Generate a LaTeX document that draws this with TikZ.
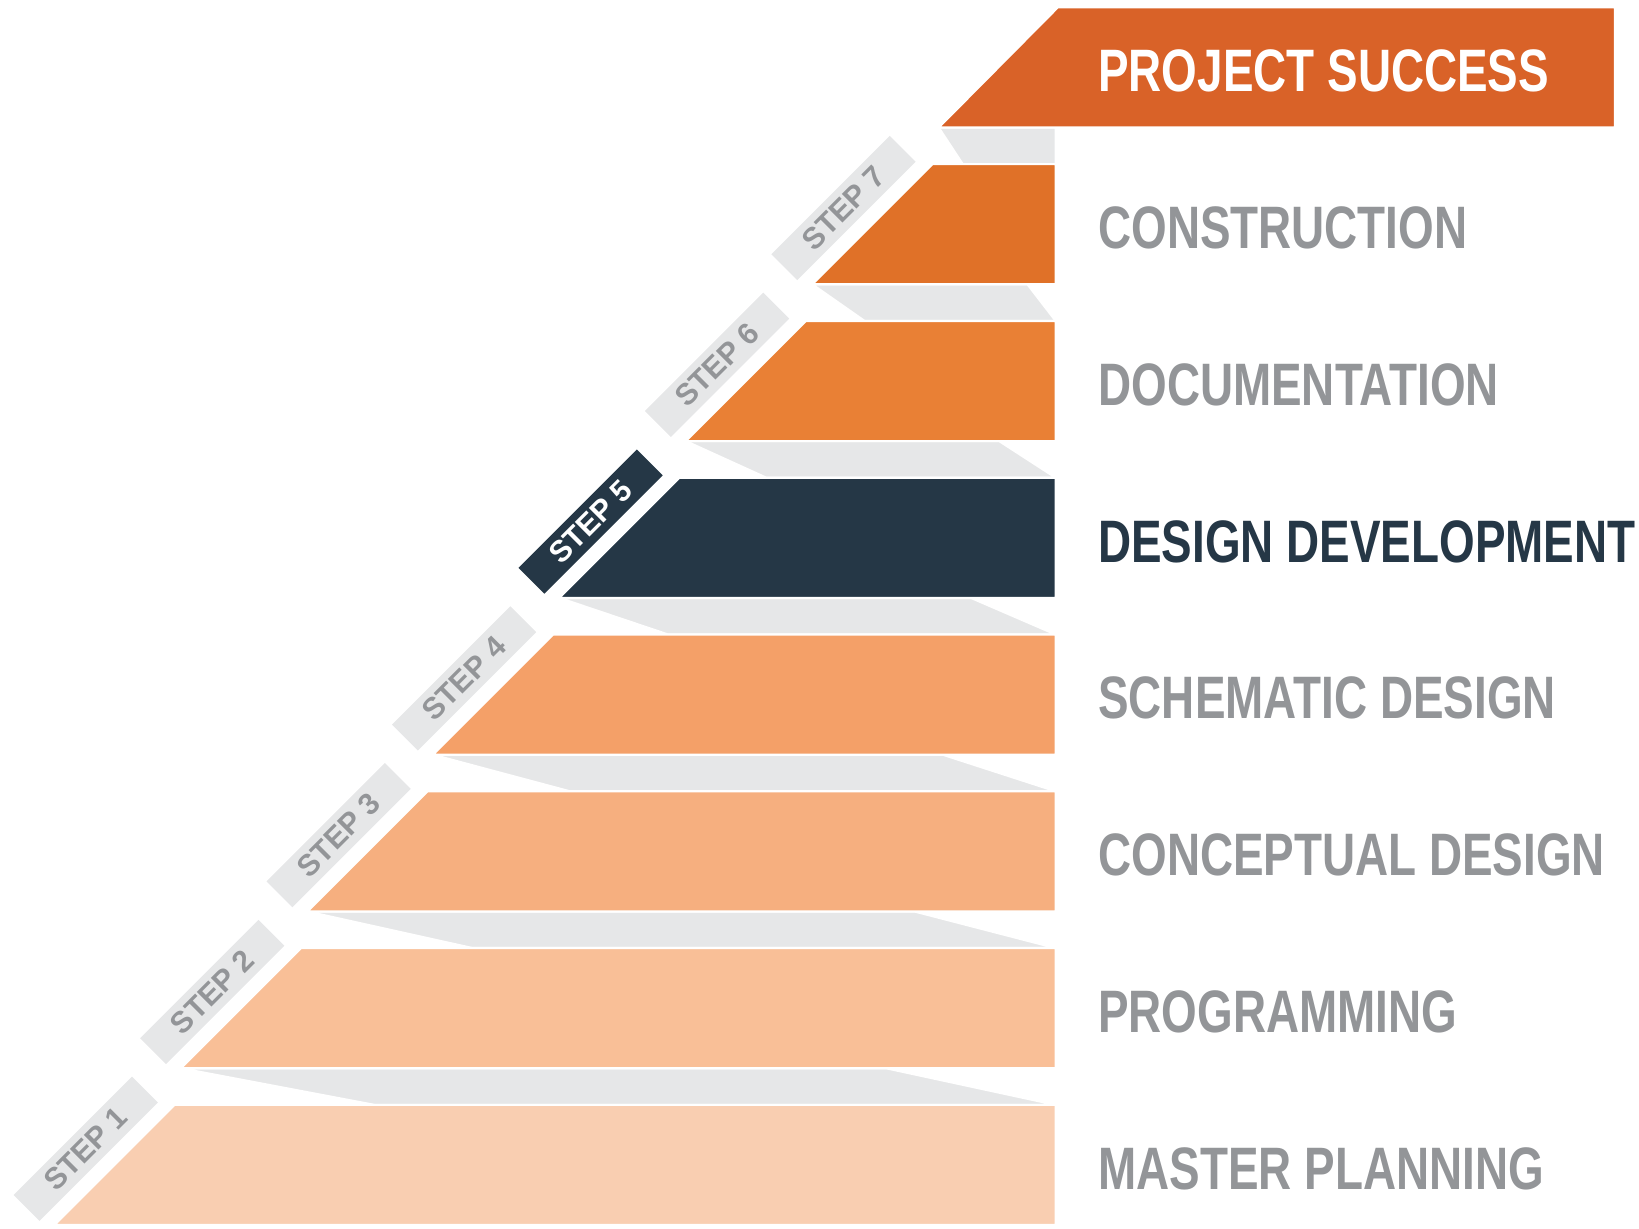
\documentclass[tikz,border=0pt]{standalone}
\usepackage{fontspec}
\setmainfont{Liberation Sans}
\newfontfamily\barfont[FakeStretch=0.765]{Liberation Sans}

\definecolor{psorange}{RGB}{217,98,40}
\definecolor{consorange}{RGB}{224,113,40}
\definecolor{docorange}{RGB}{233,128,53}
\definecolor{ddnavy}{RGB}{37,55,70}
\definecolor{schorange}{RGB}{244,160,104}
\definecolor{conorange}{RGB}{246,175,127}
\definecolor{progorange}{RGB}{249,191,151}
\definecolor{mporange}{RGB}{249,206,177}
\definecolor{riserg}{RGB}{230,231,232}
\definecolor{labelg}{RGB}{147,149,152}

\tikzset{
	bar/.style={draw=white, line width=0.6pt},
	riser/.style={fill=riserg, draw=white, line width=0.6pt},
	steptag/.style={fill=riserg, text=labelg, rotate=45, minimum width=1.6cm, minimum height=0.35cm, inner sep=0pt, font=\bfseries\fontsize{8.2}{8}\selectfont},
	phase/.style={anchor=west, inner sep=0pt, text=labelg, font=\barfont\bfseries\fontsize{16.3}{16}\selectfont}
}

\begin{document}
\begin{tikzpicture}[x=0.01cm, y=-0.01cm]
	\useasboundingbox (0,0) rectangle (1568,1175);

	% risers under each bar
	\filldraw[riser] (898,122) -- (1010,122) -- (1010,157) -- (921,157) -- cycle;
	\filldraw[riser] (777,272) -- (983,272) -- (1010,307) -- (827,307) -- cycle;
	\filldraw[riser] (656,422) -- (956,422) -- (1010,457) -- (733,457) -- cycle;
	\filldraw[riser] (535,572) -- (929,572) -- (1010,607) -- (639,607) -- cycle;
	\filldraw[riser] (414,722) -- (902,722) -- (1010,757) -- (545,757) -- cycle;
	\filldraw[riser] (294,872) -- (875,872) -- (1010,907) -- (452,907) -- cycle;
	\filldraw[riser] (173,1022) -- (848,1022) -- (1010,1057) -- (358,1057) -- cycle;

	% bars
	\filldraw[bar, fill=mporange] (52,1172) -- (167,1057) -- (1010,1057) -- (1010,1172) -- cycle;
	\filldraw[bar, fill=progorange] (173,1022) -- (288,907) -- (1010,907) -- (1010,1022) -- cycle;
	\filldraw[bar, fill=conorange] (294,872) -- (409,757) -- (1010,757) -- (1010,872) -- cycle;
	\filldraw[bar, fill=schorange] (414,722) -- (529,607) -- (1010,607) -- (1010,722) -- cycle;
	\filldraw[bar, fill=ddnavy] (535,572) -- (650,457) -- (1010,457) -- (1010,572) -- cycle;
	\filldraw[bar, fill=docorange] (656,422) -- (771,307) -- (1010,307) -- (1010,422) -- cycle;
	\filldraw[bar, fill=consorange] (777,272) -- (892,157) -- (1010,157) -- (1010,272) -- cycle;
	\filldraw[bar, fill=psorange] (898,122) -- (1012,7) -- (1545,7) -- (1545,122) -- cycle;

	% step tags
	\node[steptag] (step1) at (82,1099) {STEP 1};
	\node[steptag] (step2) at (203,949) {STEP 2};
	\node[steptag] (step3) at (324,799) {STEP 3};
	\node[steptag] (step4) at (444,649) {STEP 4};
	\node[steptag, fill=ddnavy, text=white] (step5) at (565,499) {STEP 5};
	\node[steptag] (step6) at (686,349) {STEP 6};
	\node[steptag] (step7) at (807,199) {STEP 7};

	% phase names
	\node[phase] (mplan) at (1050,1118) {MASTER PLANNING};
	\node[phase] (prog) at (1050,968) {PROGRAMMING};
	\node[phase] (concept) at (1050,818) {CONCEPTUAL DESIGN};
	\node[phase] (schem) at (1050,668) {SCHEMATIC DESIGN};
	\node[phase, text=ddnavy] (ddev) at (1050,518) {DESIGN DEVELOPMENT};
	\node[phase] (docu) at (1050,368) {DOCUMENTATION};
	\node[phase] (constr) at (1050,218) {CONSTRUCTION};
	\node[phase, text=white] (success) at (1050,68) {PROJECT SUCCESS};
\end{tikzpicture}
\end{document}
